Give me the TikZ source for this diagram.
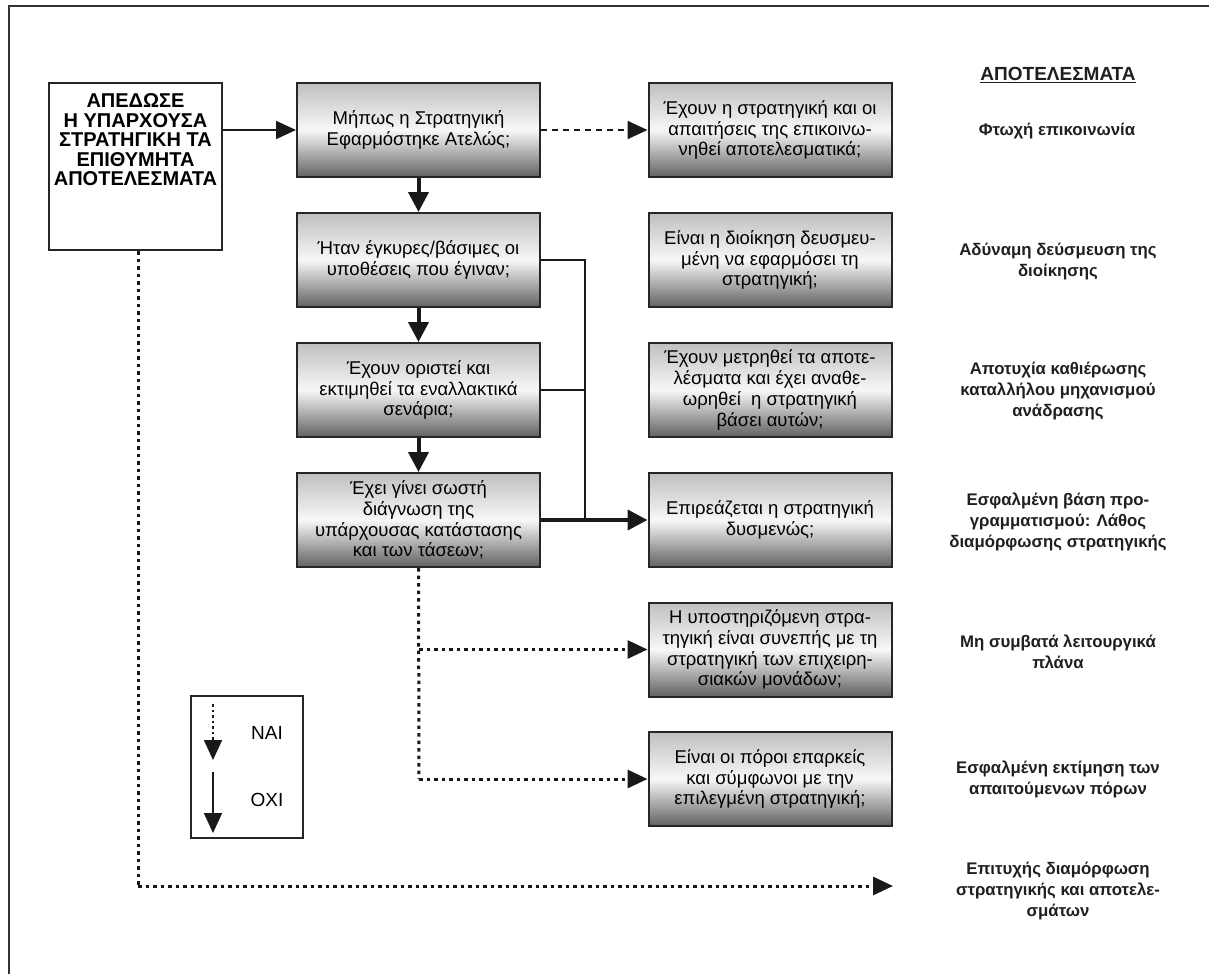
\documentclass[tikz,border=0pt]{standalone}
\usepackage{fontspec}
\setmainfont{Liberation Sans}
\usetikzlibrary{arrows.meta}
\begin{document}
\begin{tikzpicture}[x=1pt,y=-1pt,
  qbox/.style={draw=black!85, line width=2pt, minimum width=243pt, minimum height=94pt,
    inner sep=0pt, top color=black!25, bottom color=black!62, middle color=black!3,
    align=center, font=\fontsize{18.5}{20.8}\selectfont},
  startbox/.style={draw=black!85, line width=2pt, minimum width=173pt, minimum height=167pt,
    inner sep=0pt, fill=white},
  outcome/.style={align=center, text=black!88, font=\fontsize{16.8}{21}\selectfont\bfseries},
  tip/.style={-{Triangle[length=20pt,width=20pt]}},
  smalltip/.style={-{Triangle[length=20pt,width=18pt]}},
  solidflow/.style={tip, line width=4pt, draw=black!90},
  thinflow/.style={line width=2pt, draw=black!90},
  dashflow/.style={smalltip, line width=1.8pt, draw=black!90, dash pattern=on 6pt off 5pt},
  dotflow/.style={line width=3pt, draw=black!90, dash pattern=on 3.5pt off 4pt},
]
\useasboundingbox (0,0) rectangle (1209,974);
\fill[white] (0,0) rectangle (1209,974);
% outer frame (open towards the right and bottom edges)
\draw[line width=2.5pt, black!80] (9,974) -- (9,6) -- (1209,6);

% start box
\node[startbox] (start) at (135.5,166.5) {};
\node[align=center, font=\fontsize{20}{19.5}\selectfont\bfseries] (starttext) at (135.5,140)
  {ΑΠΕΔΩΣΕ\\Η ΥΠΑΡΧΟΥΣΑ\\ΣΤΡΑΤΗΓΙΚΗ ΤΑ\\ΕΠΙΘΥΜΗΤΑ\\ΑΠΟΤΕΛΕΣΜΑΤΑ};

% question chain
\node[qbox] (q1) at (418.5,130) {Μήπως η Στρατηγική\\Εφαρμόστηκε Ατελώς;};
\node[qbox] (q2) at (418.5,260) {Ήταν έγκυρες/βάσιμες οι\\υποθέσεις που έγιναν;};
\node[qbox] (q3) at (418.5,390) {Έχουν οριστεί και\\εκτιμηθεί τα εναλλακτικά\\σενάρια;};
\node[qbox] (q4) at (418.5,520) {Έχει γίνει σωστή\\διάγνωση της\\υπάρχουσας κατάστασης\\και των τάσεων;};

% checks
\node[qbox] (c1) at (770,130) {Έχουν η στρατηγική και οι\\απαιτήσεις της επικοινω-\\νηθεί αποτελεσματικά;};
\node[qbox] (c2) at (770,260) {Είναι η διοίκηση δευσμευ-\\μένη να εφαρμόσει τη\\στρατηγική;};
\node[qbox] (c3) at (770,390) {Έχουν μετρηθεί τα αποτε-\\λέσματα και έχει αναθε-\\ωρηθεί \ η στρατηγική\\βάσει αυτών;};
\node[qbox] (c4) at (770,520) {Επιρεάζεται η στρατηγική\\δυσμενώς;};
\node[qbox] (c5) at (770,649.5) {Η υποστηριζόμενη στρα-\\τηγική είναι συνεπής με τη\\στρατηγική των επιχειρη-\\σιακών μονάδων;};
\node[qbox] (c6) at (770,779) {Είναι οι πόροι επαρκείς\\και σύμφωνοι με την\\επιλεγμένη στρατηγική;};

% results column
\node[align=center, text=black!88, font=\fontsize{19}{20}\selectfont\bfseries] (head) at (1058,75) {\underline{ΑΠΟΤΕΛΕΣΜΑΤΑ}};
\node[outcome] (r1) at (1057,131) {Φτωχή επικοινωνία};
\node[outcome] (r2) at (1058,262) {Αδύναμη δεύσμευση της\\διοίκησης};
\node[outcome] (r3) at (1058,391) {Αποτυχία καθιέρωσης\\καταλλήλου μηχανισμού\\ανάδρασης};
\node[outcome] (r4) at (1058,522) {Εσφαλμένη βάση προ-\\γραμματισμού: Λάθος\\διαμόρφωσης στρατηγικής};
\node[outcome] (r5) at (1058,652) {Μη συμβατά λειτουργικά\\πλάνα};
\node[outcome] (r6) at (1058,779) {Εσφαλμένη εκτίμηση των\\απαιτούμενων πόρων};
\node[outcome] (r7) at (1058,891) {Επιτυχής διαμόρφωση\\στρατηγικής και αποτελε-\\σμάτων};

% connectors
\draw[smalltip, line width=1.8pt, black!90] (start.east |- q1.west) -- (q1.west);
\draw[dashflow] (q1.east) -- (c1.west);
\draw[solidflow] (q1.south) -- (q2.north);
\draw[solidflow] (q2.south) -- (q3.north);
\draw[solidflow] (q3.south) -- (q4.north);

\coordinate (j1) at (585,260);
\coordinate (j2) at (585,390);
\coordinate (j3) at (585,520);
\draw[thinflow] (q2.east) -- (j1) -- (j3);
\draw[thinflow] (q3.east) -- (j2);
\draw[solidflow] (q4.east) -- (c4.west);

\coordinate (d1) at (419,649.5);
\coordinate (d2) at (419,779);
\draw[dotflow] (q4.south) -- (d2);
\draw[dotflow, smalltip] (d1) -- (c5.west);
\draw[dotflow, smalltip] (d2) -- (c6.west);

\coordinate (s1) at (138,886);
\coordinate (s2) at (893,886);
\draw[dotflow] (start.south -| s1) -- (s1);
\draw[dotflow, smalltip] (s1) -- (s2);

% legend
\node[draw=black!85, line width=1.8pt, minimum width=112pt, minimum height=142pt, inner sep=0pt] (legend) at (247,767) {};
\node[font=\fontsize{19}{20}\selectfont] (yes) at (267,733) {ΝΑΙ};
\node[font=\fontsize{19}{20}\selectfont] (no) at (267,800) {ΟΧΙ};
\coordinate (ya) at (213,704);
\coordinate (yb) at (213,760);
\coordinate (na) at (213,772);
\coordinate (nb) at (213,833);
\draw[smalltip, line width=1.8pt, black!90, dash pattern=on 2.5pt off 3pt] (ya) -- (yb);
\draw[smalltip, line width=1.8pt, black!90] (na) -- (nb);
\end{tikzpicture}
\end{document}
